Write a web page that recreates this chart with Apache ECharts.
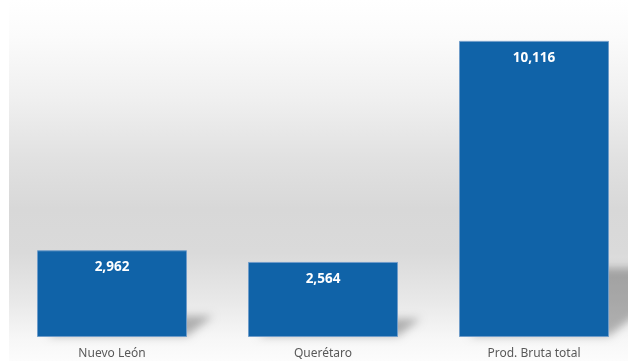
<!DOCTYPE html>
<html>
<head>
<meta charset="utf-8">
<style>
  html, body { margin: 0; padding: 0; background: #ffffff; }
  #chart { width: 628px; height: 361px; }
</style>
<script src="https://cdn.jsdelivr.net/npm/echarts@6/dist/echarts.min.js"></script>
</head>
<body>
<div id="chart"></div>
<script>
// Production figures by state
const categories = ['Nuevo León', 'Querétaro', 'Prod. Bruta total'];
const values = [2962, 2564, 10116];

const chart = echarts.init(document.getElementById('chart'), null, { renderer: 'canvas' });

const BAR_WIDTH = 150;
const FAR = 3000; // shape is drawn off-canvas; only its blurred shadow lands in view

// Perspective shadow falling to the lower right of each bar
function renderShadow(params, api) {
  const idx = api.value(0);
  const base = api.coord([idx, 0]);
  const top = api.coord([idx, api.value(1)]);
  const h = base[1] - top[1];
  const x0 = base[0] - BAR_WIDTH / 2 + 10;
  const x1 = base[0] + BAR_WIDTH / 2;
  const y0 = base[1] - 1;
  const dx = h * 0.3;
  const dy = h * 0.23;
  return {
    type: 'polygon',
    shape: {
      points: [
        [x0 - FAR, y0],
        [x1 - FAR, y0],
        [x1 + dx - FAR, y0 - dy],
        [x0 + dx - FAR, y0 - dy]
      ]
    },
    style: {
      fill: '#000',
      shadowColor: 'rgba(0,0,0,0.28)',
      shadowBlur: 9,
      shadowOffsetX: FAR,
      shadowOffsetY: 0
    },
    silent: true
  };
}

const option = {
  animation: false,
  backgroundColor: '#ffffff',
  graphic: [{
    type: 'rect',
    z: -10,
    silent: true,
    shape: { x: 9, y: 0, width: 640, height: 361 },
    style: {
      fill: new echarts.graphic.LinearGradient(0, 0, 0, 1, [
        { offset: 0, color: '#ffffff' },
        { offset: 0.1, color: '#fbfbfb' },
        { offset: 0.28, color: '#efefef' },
        { offset: 0.44, color: '#e1e1e1' },
        { offset: 0.58, color: '#d8d8d8' },
        { offset: 0.7, color: '#dadada' },
        { offset: 0.83, color: '#e8e8e8' },
        { offset: 0.94, color: '#f7f7f7' },
        { offset: 1, color: '#fcfcfc' }
      ])
    }
  }],
  grid: {
    left: 6.5, width: 633, top: 15, bottom: 24,
    containLabel: false,
    outerBoundsMode: 'none'
  },
  xAxis: {
    type: 'category',
    data: categories,
    axisLine: { show: false },
    axisTick: { show: false },
    axisLabel: {
      color: '#595959',
      fontFamily: 'Noto Sans',
      fontSize: 12,
      margin: 11
    }
  },
  yAxis: {
    type: 'value',
    min: 0,
    max: 11000,
    show: false,
    splitLine: { show: false }
  },
  series: [
    {
      type: 'custom',
      renderItem: renderShadow,
      data: values.map((v, i) => [i, v]),
      encode: { x: 0, y: 1 },
      z: 1,
      silent: true,
      clip: false
    },
    {
      type: 'bar',
      data: values,
      barWidth: BAR_WIDTH,
      z: 3,
      itemStyle: {
        color: '#1063a8',
        borderColor: '#6f9cc9',
        borderWidth: 1
      },
      label: {
        show: true,
        position: 'insideTop',
        distance: 10,
        color: '#ffffff',
        fontFamily: 'Noto Sans',
        fontWeight: 'bold',
        fontSize: 13.5,
        formatter: p => p.value.toLocaleString('en-US')
      }
    }
  ]
};

chart.setOption(option);
</script>
</body>
</html>
